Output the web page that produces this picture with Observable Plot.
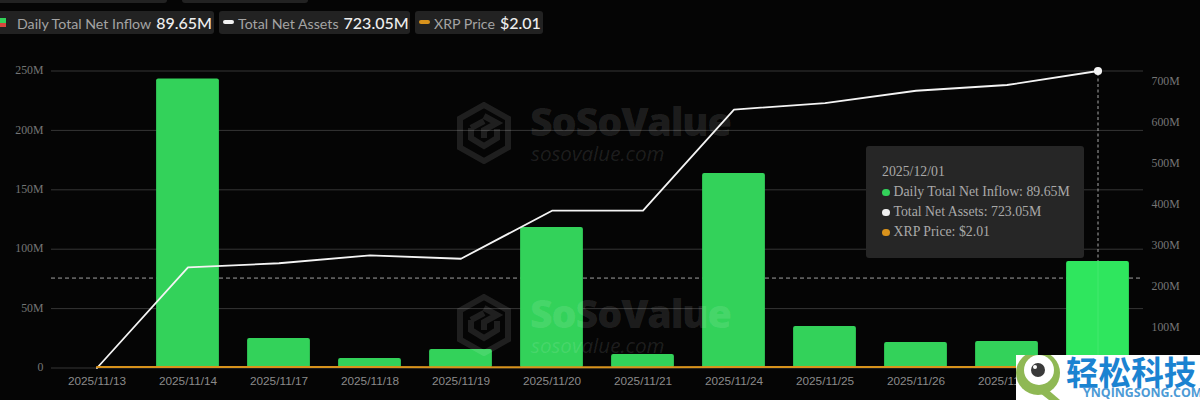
<!DOCTYPE html>
<html><head><meta charset="utf-8">
<script src="https://cdn.jsdelivr.net/npm/d3@7"></script>
<script src="https://cdn.jsdelivr.net/npm/@observablehq/plot@0.6"></script>
<style>
html,body{margin:0;padding:0;background:#050505;width:1200px;height:400px;overflow:hidden}
#root{position:relative;width:1200px;height:400px}
#legend{position:relative;height:50px}
.pill{position:absolute;top:11px;height:23px;background:#222;border-radius:3px;color:#a4a4a4;font:14.2px/23px Lato,sans-serif;white-space:nowrap}
.pill b{color:#eee;font-weight:500;font-size:16px;margin-left:5px}
.pill i{position:absolute;top:9px;width:11px;height:4px;border-radius:2px}
.stub{position:absolute;top:-8px;height:11px;background:#222;border-radius:3px}
#tip{position:absolute;left:866px;top:146px;width:218px;height:112px;background:#262626;border-radius:3px;color:#a9a9a9;font:13.8px/20px "Liberation Serif",serif}
#tip div{position:absolute;left:27.5px;white-space:nowrap}
#tip i{position:absolute;left:16px;width:7.5px;height:7.5px;border-radius:50%}
.wm{position:absolute;left:457px;color:rgba(255,255,255,.105);pointer-events:none}
.wm svg{position:absolute;left:0;top:0}
.wm .a{position:absolute;left:73px;top:-3px;font:800 39.5px/44px "Open Sans",sans-serif;letter-spacing:-1.2px;white-space:nowrap}
.wm .b{position:absolute;left:74px;top:39px;font:italic 400 20.6px/24px "Open Sans",sans-serif;white-space:nowrap}
#brand{position:absolute;left:1016px;top:355px;width:184px;height:45px;background:#fff;overflow:hidden}
#brand .t{position:absolute;left:50px;top:-6px;font:700 32.6px/44px "Noto Sans CJK SC",sans-serif;color:#1b83d1;white-space:nowrap}
#brand .u{position:absolute;left:67px;top:31px;font:700 12.4px/14px "Open Sans",sans-serif;color:#4d9bd6;white-space:nowrap}
#brand svg{position:absolute;left:0;top:0}
</style></head>
<body><div id="root">
<div id="legend"></div>
</div>
<script>
const dates = ["2025/11/13","2025/11/14","2025/11/17","2025/11/18","2025/11/19","2025/11/20","2025/11/21","2025/11/24","2025/11/25","2025/11/26","2025/11/28","2025/12/01"];
const inflow = [0,243.3,24.8,8,15.5,118.3,11.4,163.7,34.9,21.5,22.3,89.65];
const assets = [0,245,255,274,266,383,383,629,645,675,689,723.05];
const xrpPrice = [2.40,2.30,2.20,2.20,2.10,2.00,1.95,2.20,2.20,2.20,2.20,2.01];
const leftTicks = [0,50,100,150,200,250];
const rightTicks = [100,200,300,400,500,600,700];
const activeDate = "2025/12/01";
const crosshairValue = 75.7;
const assetsMax = 723.05;
const leftMax = 250;

const toLeft = v => v * leftMax / assetsMax;
const rows = dates.map((date,i)=>({date,inflow:inflow[i],assets:assets[i],price:xrpPrice[i]}));
const active = rows.filter(d=>d.date===activeDate);
const grid = "#363636";

const chart = Plot.plot({
  width:1200, height:350,
  marginLeft:51, marginRight:57, marginTop:20.5, marginBottom:32.5,
  style:{background:"transparent",overflow:"visible"},
  x:{type:"band",domain:dates,paddingInner:0.31,paddingOuter:0.155,round:false,label:null},
  y:{domain:[0,leftMax],label:null},
  marks:[
    Plot.ruleY(leftTicks,{stroke:grid,strokeWidth:1}),
    Plot.ruleY([crosshairValue],{stroke:"#a0a0a0",strokeWidth:1,strokeDasharray:"4,3"}),
    Plot.ruleX(active,{x:"date",y1:0,y2:leftMax,stroke:"#a8a8a8",strokeWidth:1,strokeDasharray:"3,2.5"}),
    Plot.barY(rows.filter(d=>d.inflow>0),{x:"date",y:"inflow",rx:2,fill:d=>d.date===activeDate?"#2fe65e":"#33d25a"}),
    Plot.ruleX(active,{x:"date",y1:0,y2:"inflow",stroke:"#fff",strokeOpacity:.1,strokeWidth:1}),
    Plot.lineY(rows,{x:"date",y:d=>toLeft(d.assets),stroke:"#f4f4f4",strokeWidth:1.8,curve:"linear"}),
    Plot.lineY(rows,{x:"date",y:d=>toLeft(d.price),stroke:"#d8921c",strokeWidth:2,curve:"linear"}),
    Plot.dot(active,{x:"date",y:d=>toLeft(d.assets),r:3.3,fill:"#f4f4f4",stroke:"#f4f4f4"}),
    Plot.axisY(leftTicks,{anchor:"left",tickSize:0,tickPadding:8,label:null,dy:-0.5,
      tickFormat:d=>d?d+"M":"0",fontFamily:"Liberation Serif",fontSize:11.8,fill:"#757575"}),
    Plot.axisY(rightTicks,{anchor:"right",y:toLeft,tickSize:0,tickPadding:8,label:null,dy:0.5,
      text:d=>d+"M",tickFormat:d=>d+"M",fontFamily:"Liberation Serif",fontSize:11.8,fill:"#757575"}),
    Plot.axisX(dates,{anchor:"bottom",tickSize:0,tickPadding:8.5,label:null,
      fontFamily:"Liberation Sans",fontSize:11.8,fill:"#8a8a8a"})
  ]
});
const root = document.getElementById("root");
root.appendChild(chart);
chart.style.position="absolute"; chart.style.left="0"; chart.style.top="50px"; chart.style.display="block";

const legendEntries = [
  {name:"Daily Total Net Inflow",value:"89.65M",left:-10,width:224,pad:27,kind:"bar"},
  {name:"Total Net Assets",value:"723.05M",left:219,width:191,pad:19,color:"#f2f2f2"},
  {name:"XRP Price",value:"$2.01",left:415,width:128,pad:19,color:"#d8921c"}
];
const legend = document.getElementById("legend");
legend.innerHTML = `<div class="stub" style="left:-5px;width:172px"></div><div class="stub" style="left:182px;width:126px"></div>`+
 legendEntries.map(e=>`<div class="pill" style="left:${e.left}px;width:${e.width}px;padding-left:0"><span style="position:absolute;left:${e.pad}px">${e.name}<b>${e.value}</b></span>${
   e.kind==="bar"
   ?`<i style="left:7px;top:7px;width:9px;height:5px;background:#33d25a;border-radius:0"></i><i style="left:7px;top:12px;width:9px;height:4px;background:#d9453d;border-radius:0"></i>`
   :`<i style="left:4px;background:${e.color}"></i>`}</div>`).join("");

const tip = document.createElement("div"); tip.id="tip";
const tipLines = [["Daily Total Net Inflow: 89.65M","#33d25a"],["Total Net Assets: 723.05M","#efefef"],["XRP Price: $2.01","#d8921c"]];
tip.innerHTML = `<div style="left:16px;top:16px">${activeDate}</div>`+
  tipLines.map((l,i)=>`<i style="top:${42.5+20*i}px;background:${l[1]}"></i><div style="top:${36+20*i}px">${l[0]}</div>`).join("");
root.appendChild(tip);

const logo = `<svg width="54" height="62" viewBox="0 0 54 62" fill="none" stroke="rgba(255,255,255,.105)">
<path d="M27 3 L51 16.5 L51 45.5 L27 59 L3 45.5 L3 16.5 Z" stroke-width="6"/>
<path d="M27 14 L40 21 L27 28 L27 36 M14 26 L14 36 L27 44 L40 36 L40 27 M14 26 L27 19" stroke-width="6"/></svg>`;
[102,294].forEach(top=>{
  const w=document.createElement("div"); w.className="wm"; w.style.top=top+"px";
  w.innerHTML=logo+`<div class="a">SoSoValue</div><div class="b">sosovalue.com</div>`;
  root.appendChild(w);
});

const brand=document.createElement("div"); brand.id="brand";
brand.innerHTML=`<svg width="60" height="45" viewBox="0 0 60 45"><circle cx="22" cy="18" r="22" fill="#8fb854"/><path d="M30 33 L44 45 L33 45 L24 38Z" fill="#8fb854"/><circle cx="23" cy="15" r="15" fill="#fff"/><circle cx="22" cy="15" r="7" fill="#3a3a3a"/><circle cx="19" cy="12" r="2" fill="#fff"/></svg>
<div class="t">轻松科技</div><div class="u">YNQINGSONG.COM</div>`;
root.appendChild(brand);
</script>
</body></html>
